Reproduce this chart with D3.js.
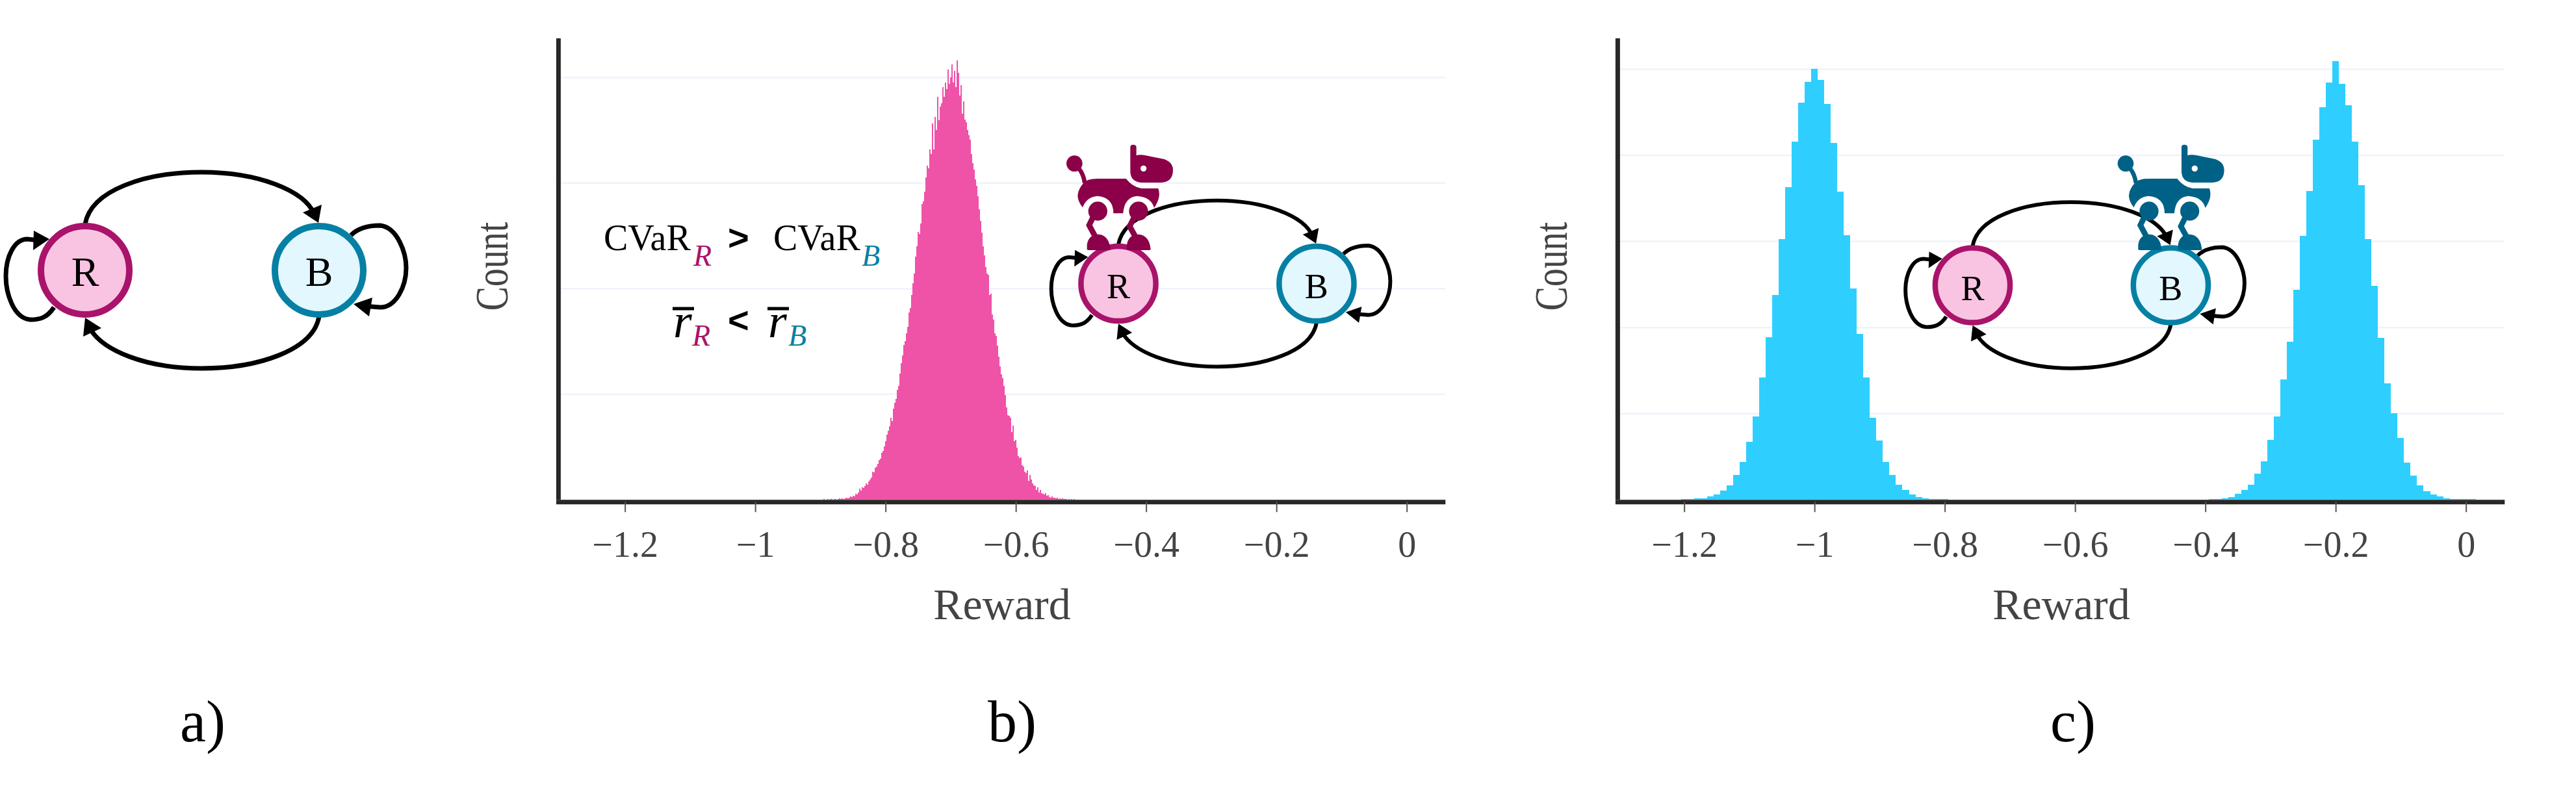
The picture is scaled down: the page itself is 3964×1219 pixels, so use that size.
<!DOCTYPE html>
<html>
<head>
<meta charset="utf-8">
<script src="https://cdn.jsdelivr.net/npm/d3@7"></script>
<style>
html,body{margin:0;padding:0;background:#fff;}
svg{display:block;}
text{font-family:"Liberation Serif",serif;}
</style>
</head>
<body>
<svg id="chart" width="3964" height="1219"></svg>
<script>
// ---------- data ----------
const tickLabels = [-1.2, -1, -0.8, -0.6, -0.4, -0.2, 0];
const xLabel = "Reward";
const yLabel = "Count";
const panelLetters = ["a)", "b)", "c)"];

const pinkStart = -0.896, pinkStep = 0.002;
const pinkCounts = [
0,1,0,0,1,0,1,1,0,1,1,0,1,2,1,2,
1,2,3,2,3,5,4,6,5,9,8,11,16,13,18,17,20,24,22,27,30,33,42,41,48,50,54,60,62,71,74,80,88,98,
104,111,124,119,138,146,152,166,172,191,206,218,234,240,252,262,283,290,310,328,342,368,384,405,402,418,448,452,466,488,
506,502,530,524,570,530,580,560,610,575,595,600,625,610,632,622,
652,630,640,659,632,650,625,665,647,612,628,585,603,576,572,560,552,545,524,510,500,485,475,
460,440,422,404,384,370,352,342,340,310,312,280,272,252,248,233,216,202,190,184,172,158,140,128,127,124,102,112,88,90,78,66,63,64,52,50,42,40,44,28,37,30,24,21,20,14,18,11,14,10,9,8,10,6,7,4,3,5,3,3,2,3,1,2,1,2,1,1,1,0,1,0,1,0,1,0,0
];
const pinkGrid = [160, 320, 480, 640];

const cyanStep = 0.01;
const cyanLeftStart = -1.2;
const cyanLeftCounts = [4,4,11,15,33,55,106,165,282,432,666,962,1419,1887,2377,3021,3624,4158,4608,4853,5003,4875,4590,4143,3573,3068,2447,1920,1415,951,688,435,285,168,113,59,26,11,7,4,4];
const cyanRightStart = -0.39;
const cyanRightCounts = [4,7,15,26,69,110,175,303,446,691,965,1396,1828,2438,3063,3582,4178,4554,4843,5092,4825,4580,4156,3648,3026,2482,1879,1352,1005,713,431,278,161,99,58,33,11,7,4,4,4];
const cyanGrid = [1000, 2000, 3000, 4000, 5000];

// ---------- styles ----------
const magenta = "#A9136A", magentaFill = "#F9C4E2";
const teal = "#0580A4", tealFill = "#E3F7FE";
const pink = "#EF53A7", cyan = "#2ECFFF";
const axisCol = "#282828", gridCol = "#EEF3FB", labelCol = "#444444";

const svg = d3.select("#chart");

// ---------- histogram panels ----------
function panel(o) {
  const x = d3.scaleLinear().domain([-1.306, 0.059]).range(o.xRange);
  const y = d3.scaleLinear().domain([0, o.yTop]).range([768.7, 58.6]);
  const g = svg.append("g");

  // gridlines
  const grid = g.append("g").attr("transform", `translate(${o.xRange[0]},0)`)
    .call(d3.axisLeft(y).tickValues(o.grid).tickSize(-(o.xRange[1] - o.xRange[0])).tickFormat(""));
  grid.select(".domain").remove();
  grid.selectAll("line").attr("stroke", gridCol).attr("stroke-width", 2.5);

  // bars
  o.series.forEach(s => {
    g.append("g").attr("fill", o.color).attr("shape-rendering", "crispEdges")
      .selectAll("rect").data(s.counts).join("rect")
      .attr("x", (d, i) => x(s.start + i * s.step - s.step / 2))
      .attr("width", x(s.step) - x(0))
      .attr("y", d => y(d))
      .attr("height", d => y(0) - y(d));
  });

  // axes
  const ax = g.append("g").attr("transform", "translate(0,772.2)")
    .call(d3.axisBottom(x).tickValues(tickLabels).tickSize(16).tickSizeOuter(0)
      .tickFormat(d => d3.format("~g")(d)));
  ax.select(".domain").attr("stroke", axisCol).attr("stroke-width", 7);
  ax.selectAll(".tick line").attr("stroke", "#555").attr("stroke-width", 2);
  ax.selectAll(".tick text").attr("y", 84.5).attr("dy", 0)
    .attr("fill", labelCol).style("font-size", "56px")
    .style("font-family", '"Liberation Serif",serif');

  const ay = g.append("g").attr("transform", `translate(${o.xRange[0] + 3.5},0)`)
    .call(d3.axisLeft(y).tickValues([]).tickSizeOuter(0));
  ay.select(".domain").attr("stroke", axisCol).attr("stroke-width", 7);

  // axis titles
  g.append("text").attr("x", o.xLabelX).attr("y", 953).attr("text-anchor", "middle")
    .attr("fill", labelCol).style("font-size", "68px").text(xLabel);
  g.append("text").attr("text-anchor", "middle").attr("fill", labelCol).style("font-size", "68px")
    .attr("transform", `translate(${o.yLabelX},410) rotate(-90) scale(0.82,1.05)`).text(yLabel);
}

panel({ xRange: [855.4, 2223.8], yTop: 699.2, grid: pinkGrid, color: pink, xLabelX: 1542, yLabelX: 781,
  series: [{ counts: pinkCounts, start: pinkStart, step: pinkStep }] });
panel({ xRange: [2485.4, 3853.8], yTop: 5358, grid: cyanGrid, color: cyan, xLabelX: 3172, yLabelX: 2411,
  series: [
    { counts: cyanLeftCounts, start: cyanLeftStart, step: cyanStep },
    { counts: cyanRightCounts, start: cyanRightStart, step: cyanStep }
  ] });

// ---------- state graph (drawn in panel-a coordinates, rescaled for b and c) ----------
function stateGraph(tx, ty, k, labelDy) {
  const g = svg.append("g").attr("transform", `translate(${tx},${ty}) scale(${k})`);
  const curves = [
    "M131,345 C140,292 225,265 310,265 C395,265 468,292 484,330",
    "M491,487 C482,540 395,567 310,567 C225,567 158,540 138,505",
    "M83,473 C72,490 60,492 47,492 C20,490 9,450 9,425 C9,395 22,368 42,368 L60,370",
    "M540,362 C552,350 568,347 585,347 C612,350 625,390 625,412 C625,440 610,473 585,473 L560,471"
  ];
  const heads = [
    "M490,343 L495,315 L466,327 Z",
    "M131,489 L128,518 L156,505 Z",
    "M76,368 L52,355 L51,385 Z",
    "M544,468 L573,458 L568,487 Z"
  ];
  g.selectAll("path.edge").data(curves).join("path").attr("class", "edge")
    .attr("d", d => d).attr("fill", "none").attr("stroke", "#000").attr("stroke-width", 7);
  g.selectAll("path.head").data(heads).join("path").attr("class", "head")
    .attr("d", d => d).attr("fill", "#000");
  const nodes = [
    { cx: 131, label: "R", stroke: magenta, fill: magentaFill },
    { cx: 491, label: "B", stroke: teal, fill: tealFill }
  ];
  g.selectAll("circle").data(nodes).join("circle")
    .attr("cx", d => d.cx).attr("cy", 416).attr("r", 68)
    .attr("fill", d => d.fill).attr("stroke", d => d.stroke).attr("stroke-width", 10);
  g.selectAll("text").data(nodes).join("text")
    .attr("x", d => d.cx).attr("y", 416 + labelDy).attr("text-anchor", "middle")
    .style("font-size", "64px").attr("fill", "#000").text(d => d.label);
}
const graphK = 0.847;
stateGraph(0, 0, 1, 24);
stateGraph(1721 - 131 * graphK, 436.5 - 416 * graphK, graphK, 27);
stateGraph(3035.5 - 131 * graphK, 439 - 416 * graphK, graphK, 27);

// ---------- robot dog icon ----------
function dog(tx, ty, color) {
  const g = svg.append("g").attr("transform", `translate(${tx},${ty}) scale(${1 / 3})`)
    .attr("fill", color).attr("stroke", "none");
  g.append("circle").attr("cx", 310).attr("cy", 155).attr("r", 37);
  g.append("path").attr("d", "M332,180 Q352,205 358,245").attr("fill", "none").attr("stroke", color).attr("stroke-width", 20);
  g.append("path").attr("d", "M365,235 Q385,225 420,225 L548,225 Q580,265 620,270 L697,270 Q712,310 678,360 Q665,310 600,305 Q540,310 535,385 L490,385 Q490,310 415,305 Q365,310 348,358 Q310,310 335,270 Q345,250 365,235 Z");
  g.append("path").attr("fill-rule", "evenodd")
    .attr("d", "M568,80 Q568,68 581,68 Q596,68 596,80 L596,118 Q610,112 640,118 L725,135 Q765,150 765,185 Q765,240 710,243 L620,243 Q568,240 568,190 Z M643,178 A14,14 0 1 0 615,178 A14,14 0 1 0 643,178 Z");
  [[418, [[395, 405], [378, 440], [405, 490]], "M368,550 L368,530 Q375,482 422,482 Q470,485 477,555 L375,555 Q368,555 368,550 Z"],
   [606, [[585, 405], [565, 445], [590, 490]], "M552,550 L552,530 Q560,482 605,482 Q655,485 662,550 Q662,555 655,555 L558,555 Q552,555 552,550 Z"]]
  .forEach(([cx, leg, foot]) => {
    g.append("circle").attr("cx", cx).attr("cy", 375).attr("r", 44);
    g.append("path").attr("d", d3.line()(leg)).attr("fill", "none").attr("stroke", color).attr("stroke-width", 26);
    g.append("path").attr("d", foot);
  });
}
dog(1550, 200, "#8B0049");
dog(1550 + 1617.6, 200, "#006186");

// ---------- annotation in panel b ----------
function txt(x, y, s, size, color, opts = {}) {
  svg.append("text").attr("x", x).attr("y", y).attr("fill", color)
    .style("font-size", size + "px")
    .style("font-style", opts.italic ? "italic" : "normal")
    .style("font-weight", opts.bold ? "bold" : "normal")
    .style("font-family", opts.sans ? '"Liberation Sans",sans-serif' : '"Liberation Serif",serif')
    .text(s);
}
txt(929, 385, "CVaR", 56, "#000");
txt(1067, 408.6, "R", 46, magenta, { italic: true });
txt(1120, 385, ">", 56, "#000", { bold: true, sans: true });
txt(1190, 385, "CVaR", 56, "#000");
txt(1326, 408.6, "B", 46, teal, { italic: true });

txt(1036, 519, "r", 74, "#000", { italic: true });
txt(1065, 532, "R", 46, magenta, { italic: true });
txt(1120, 512, "<", 56, "#000", { bold: true, sans: true });
txt(1182, 519, "r", 74, "#000", { italic: true });
txt(1213, 532, "B", 46, teal, { italic: true });
[[1035, 1068], [1181, 1214]].forEach(([a, b]) => {
  svg.append("line").attr("x1", a).attr("x2", b).attr("y1", 475).attr("y2", 475)
    .attr("stroke", "#000").attr("stroke-width", 5);
});

// ---------- panel letters ----------
const letterX = [277, 1520, 3155];
svg.selectAll("text.letter").data(panelLetters).join("text").attr("class", "letter")
  .attr("x", (d, i) => letterX[i]).attr("y", 1141)
  .style("font-size", "90px").attr("fill", "#000").text(d => d);
</script>
</body>
</html>
